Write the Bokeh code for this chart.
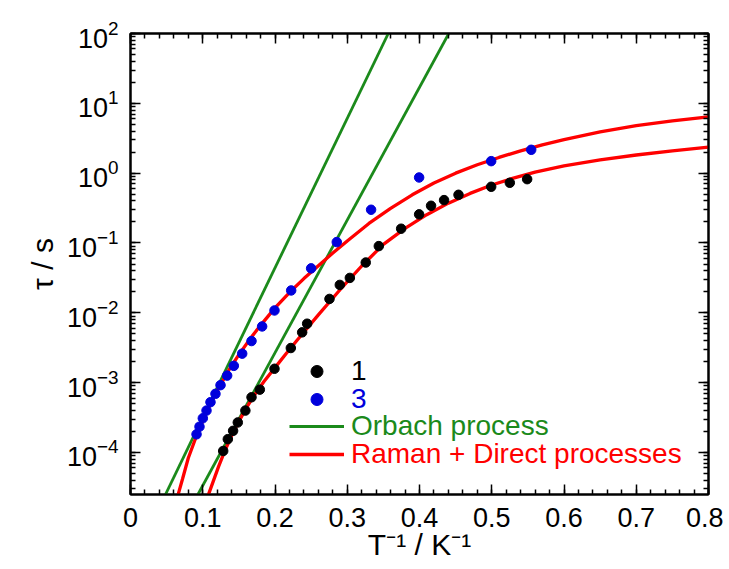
from bokeh.plotting import figure
from bokeh.models import (LinearAxis, LogAxis, FixedTicker, LogTicker, Legend, LegendItem,
                          Range1d, CustomJSTickFormatter)
from bokeh.embed import file_html
from bokeh.resources import INLINE

# ---- data ----
# compound 1 (black)
x1 = [0.1283, 0.1347, 0.142, 0.1485, 0.159, 0.1675, 0.179, 0.1993, 0.2219, 0.2376, 0.2445,
      0.2754, 0.2897, 0.3036, 0.3256, 0.3437, 0.3746, 0.3995, 0.416, 0.434, 0.454, 0.4992,
      0.525, 0.549]
tau1 = [1.05e-4, 1.55e-4, 2.04e-4, 2.69e-4, 3.98e-4, 6.17e-4, 7.94e-4, 1.58e-3, 3.13e-3,
        5.25e-3, 6.98e-3, 0.0158, 0.0251, 0.0316, 0.0525, 0.0902, 0.16, 0.257, 0.341, 0.411,
        0.49, 0.638, 0.728, 0.82]
# compound 3 (blue)
x3 = [0.0914, 0.0955, 0.1001, 0.1052, 0.1107, 0.1176, 0.1246, 0.1338, 0.143, 0.1546, 0.1675,
      0.1822, 0.1993, 0.2224, 0.25, 0.2855, 0.333, 0.3995, 0.4992, 0.5546]
tau3 = [1.82e-4, 2.34e-4, 3.09e-4, 3.98e-4, 5.25e-4, 6.92e-4, 9.2e-4, 1.26e-3, 1.74e-3,
        2.6e-3, 3.94e-3, 6.38e-3, 0.0108, 0.0209, 0.0433, 0.103, 0.299, 0.867, 1.486, 2.16]

# Orbach fits (straight lines in log scale)
orb3_x = [0.0484, 0.3568]
orb3_tau = [2.5e-5, 100.0]
orb1_x = [0.0933, 0.4405]
orb1_tau = [2.5e-5, 100.0]

# Raman + Direct fits
rd3_x = [0.066, 0.072, 0.08, 0.09, 0.10, 0.11, 0.12, 0.135, 0.15, 0.165, 0.18, 0.20, 0.22,
         0.24, 0.26, 0.28, 0.30, 0.33, 0.36, 0.39, 0.42, 0.45, 0.48, 0.51, 0.54, 0.57,
         0.60, 0.65, 0.70, 0.75, 0.80]
rd3_tau = [2.51e-5, 4.17e-5, 8.32e-5, 1.585e-4, 2.82e-4, 4.79e-4, 7.59e-4, 1.445e-3, 2.51e-3,
           4.17e-3, 6.61e-3, 0.01175, 0.0195, 0.0309, 0.0473, 0.0716, 0.107, 0.1905, 0.3126,
           0.49, 0.724, 1.0, 1.318, 1.679, 2.089, 2.541, 3.02, 3.89, 4.79, 5.62, 6.38]
rd1_x = [0.108, 0.115, 0.122, 0.13, 0.14, 0.15, 0.16, 0.17, 0.185, 0.20, 0.215, 0.23, 0.26,
         0.29, 0.32, 0.35, 0.38, 0.41, 0.44, 0.47, 0.50, 0.53, 0.56, 0.60, 0.65, 0.70, 0.75,
         0.80]
rd1_tau = [2.51e-5, 3.98e-5, 6.31e-5, 1.023e-4, 1.74e-4, 2.79e-4, 4.27e-4, 6.31e-4, 1.047e-3,
           1.64e-3, 2.57e-3, 3.98e-3, 9.33e-3, 0.0214, 0.0468, 0.0955, 0.162, 0.254, 0.372,
           0.513, 0.676, 0.851, 1.035, 1.274, 1.549, 1.82, 2.09, 2.355]

x_ticks = [0, 0.1, 0.2, 0.3, 0.4, 0.5, 0.6, 0.7, 0.8]
x_minor = [round(i * 0.02, 2) for i in range(41)]

FONT = "Liberation Sans"
GREEN = "#1b8a1b"
BLUE = "#0000dc"
RED = "#ff0000"

p = figure(frame_width=578, frame_height=461,
           x_range=Range1d(0, 0.8), y_range=Range1d(2.5e-5, 100),
           y_axis_type="log", output_backend="svg", toolbar_location=None,
           min_border_left=130, min_border_right=15, min_border_top=33, min_border_bottom=0)
p.xgrid.visible = False
p.ygrid.visible = False
p.outline_line_color = "black"
p.outline_line_width = 2
p.background_fill_color = "white"
p.border_fill_color = "white"

xticker = FixedTicker(ticks=x_ticks, minor_ticks=x_minor)
yticker = LogTicker(num_minor_ticks=10, desired_num_ticks=7)

xa = p.xaxis[0]
ya = p.yaxis[0]
xa.ticker = xticker
ya.ticker = yticker
xa.formatter = CustomJSTickFormatter(code="return tick == 0 ? '0' : tick.toFixed(1);")
xa.axis_label = "T\u207b\u00b9 / K\u207b\u00b9"
ya.axis_label = "\u03c4 / s"

top = LinearAxis(ticker=xticker, major_label_text_color=None)
right = LogAxis(ticker=yticker, major_label_text_color=None)
p.add_layout(top, "above")
p.add_layout(right, "right")

for ax in [xa, ya, top, right]:
    ax.axis_line_width = 2
    ax.axis_line_color = "black"
    ax.major_tick_in = 10
    ax.major_tick_out = 0
    ax.minor_tick_in = 5
    ax.minor_tick_out = 0
    ax.major_tick_line_width = 1.5
    ax.minor_tick_line_width = 1.5
    ax.major_tick_line_color = "black"
    ax.minor_tick_line_color = "black"
    ax.major_label_text_font = FONT
    ax.major_label_text_font_size = "27px"
    ax.axis_label_text_font = FONT
    ax.axis_label_text_font_size = "30px"
    ax.axis_label_text_font_style = "normal"
    ax.axis_label_text_color = "black"

xa.major_label_text_color = "black"
ya.major_label_text_color = "black"
xa.major_label_standoff = 13
ya.major_label_standoff = 12
xa.axis_label_standoff = -2
ya.axis_label_standoff = 5

# fits
g3 = p.line(orb3_x, orb3_tau, line_color=GREEN, line_width=2.8)
g1 = p.line(orb1_x, orb1_tau, line_color=GREEN, line_width=2.8)
r3 = p.line(rd3_x, rd3_tau, line_color=RED, line_width=3.3)
r1 = p.line(rd1_x, rd1_tau, line_color=RED, line_width=3.3)
# data
s1 = p.scatter(x1, tau1, size=9.5, fill_color="black", line_color="black")
s3 = p.scatter(x3, tau3, size=9.5, fill_color=BLUE, line_color=BLUE)

entries = [("1", [s1], "black", 122), ("3", [s3], BLUE, 94),
           ("Orbach process", [g1], GREEN, 67),
           ("Raman + Direct processes", [r1], RED, 39)]
for label, rends, col, yc in entries:
    lg = Legend(items=[LegendItem(label=label, renderers=rends)],
                location=(159, yc - 15),
                label_text_font=FONT, label_text_font_size="28px",
                label_text_color=col, glyph_width=55, glyph_height=30,
                label_height=30, label_standoff=7, padding=0, margin=0,
                spacing=0, border_line_alpha=0, background_fill_alpha=0)
    p.add_layout(lg)

open("out.html", "w").write(file_html(p, INLINE))
